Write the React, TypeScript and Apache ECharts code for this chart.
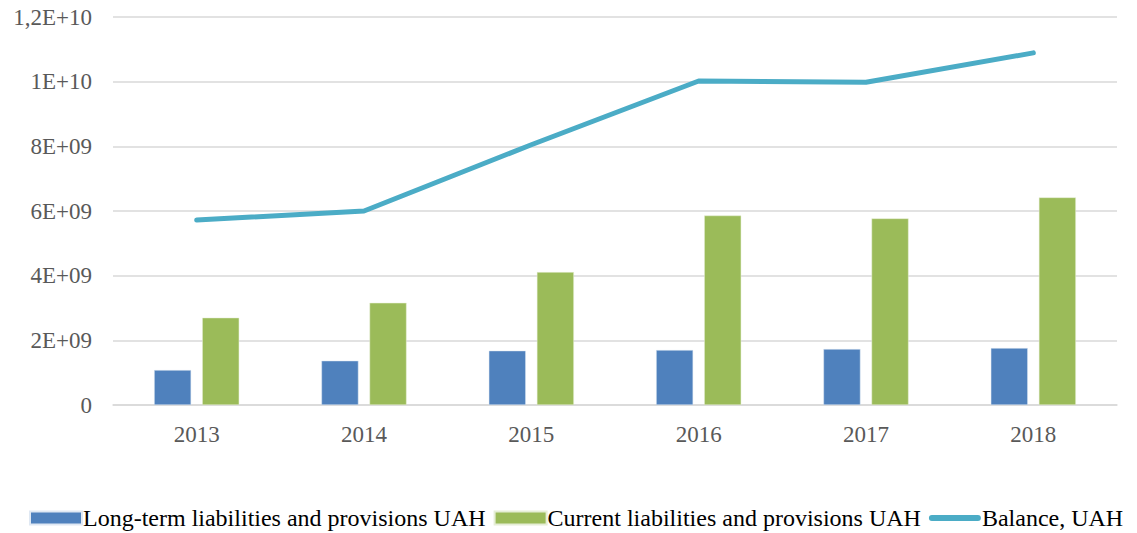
import React, { useEffect, useRef } from "react";
import * as echarts from "echarts";

const years = ["2013", "2014", "2015", "2016", "2017", "2018"];
const longTerm = [1.08e9, 1.37e9, 1.68e9, 1.70e9, 1.73e9, 1.76e9];
const current = [2.70e9, 3.16e9, 4.11e9, 5.86e9, 5.77e9, 6.42e9];
const balance = [5.72e9, 6.0e9, 8.05e9, 1.002e10, 9.98e9, 1.089e10];
const yTickLabels = ["0", "2E+09", "4E+09", "6E+09", "8E+09", "1E+10", "1,2E+10"];

const FONT = "Liberation Serif";
const LINE_ICON =
  "path://M0,0L0.01,0M52,13L52.01,13M3,3.5L49,3.5A3,3 0 0 1 49,9.5L3,9.5A3,3 0 0 1 3,3.5Z";

export default function App() {
  const ref = useRef<HTMLDivElement>(null);
  useEffect(() => {
    document.body.style.margin = "0";
    if (!ref.current) return;
    const chart = echarts.init(ref.current, undefined, { renderer: "svg" });
    chart.setOption({
      animation: false,
      textStyle: { fontFamily: FONT },
      grid: { left: 113, right: 20, top: 17, bottom: 128, containLabel: false },
      legend: {
        top: 506,
        left: 29,
        padding: 0,
        itemWidth: 52,
        itemHeight: 13,
        itemGap: 8,
        textStyle: { fontFamily: FONT, fontSize: 24, color: "#000", padding: [0, 0, 0, -4] },
        data: [
          { name: "Long-term liabilities and provisions UAH", icon: "rect" },
          { name: "Current liabilities and provisions UAH", icon: "rect" },
          { name: "Balance, UAH", icon: LINE_ICON },
        ],
      },
      xAxis: {
        type: "category",
        data: years,
        axisLine: { lineStyle: { color: "#d9d9d9", width: 1.5 } },
        axisTick: { show: false },
        axisLabel: { fontFamily: FONT, fontSize: 23, color: "#595959", margin: 18 },
      },
      yAxis: {
        type: "value",
        min: 0,
        max: 1.2e10,
        interval: 2e9,
        axisLine: { show: false },
        axisTick: { show: false },
        splitLine: { lineStyle: { color: "#d9d9d9", width: 1.5 } },
        axisLabel: {
          fontFamily: FONT,
          fontSize: 23,
          color: "#595959",
          margin: 21,
          formatter: (v: number) => yTickLabels[Math.round(v / 2e9)] ?? "",
        },
      },
      series: [
        {
          name: "Long-term liabilities and provisions UAH",
          type: "bar",
          data: longTerm,
          barWidth: 37,
          barGap: "30%",
          itemStyle: { color: "#4F81BD", borderColor: "#dfe8f3", borderWidth: 0.5 },
        },
        {
          name: "Current liabilities and provisions UAH",
          type: "bar",
          data: current,
          barWidth: 37,
          barGap: "30%",
          itemStyle: { color: "#9BBB59", borderColor: "#e6eed6", borderWidth: 0.5 },
        },
        {
          name: "Balance, UAH",
          type: "line",
          data: balance,
          symbol: "none",
          lineStyle: { color: "#4BACC6", width: 5, cap: "round", join: "round" },
          itemStyle: { color: "#4BACC6" },
        },
      ],
    });
    return () => chart.dispose();
  }, []);
  return <div ref={ref} style={{ width: 1137, height: 533 }} />;
}
